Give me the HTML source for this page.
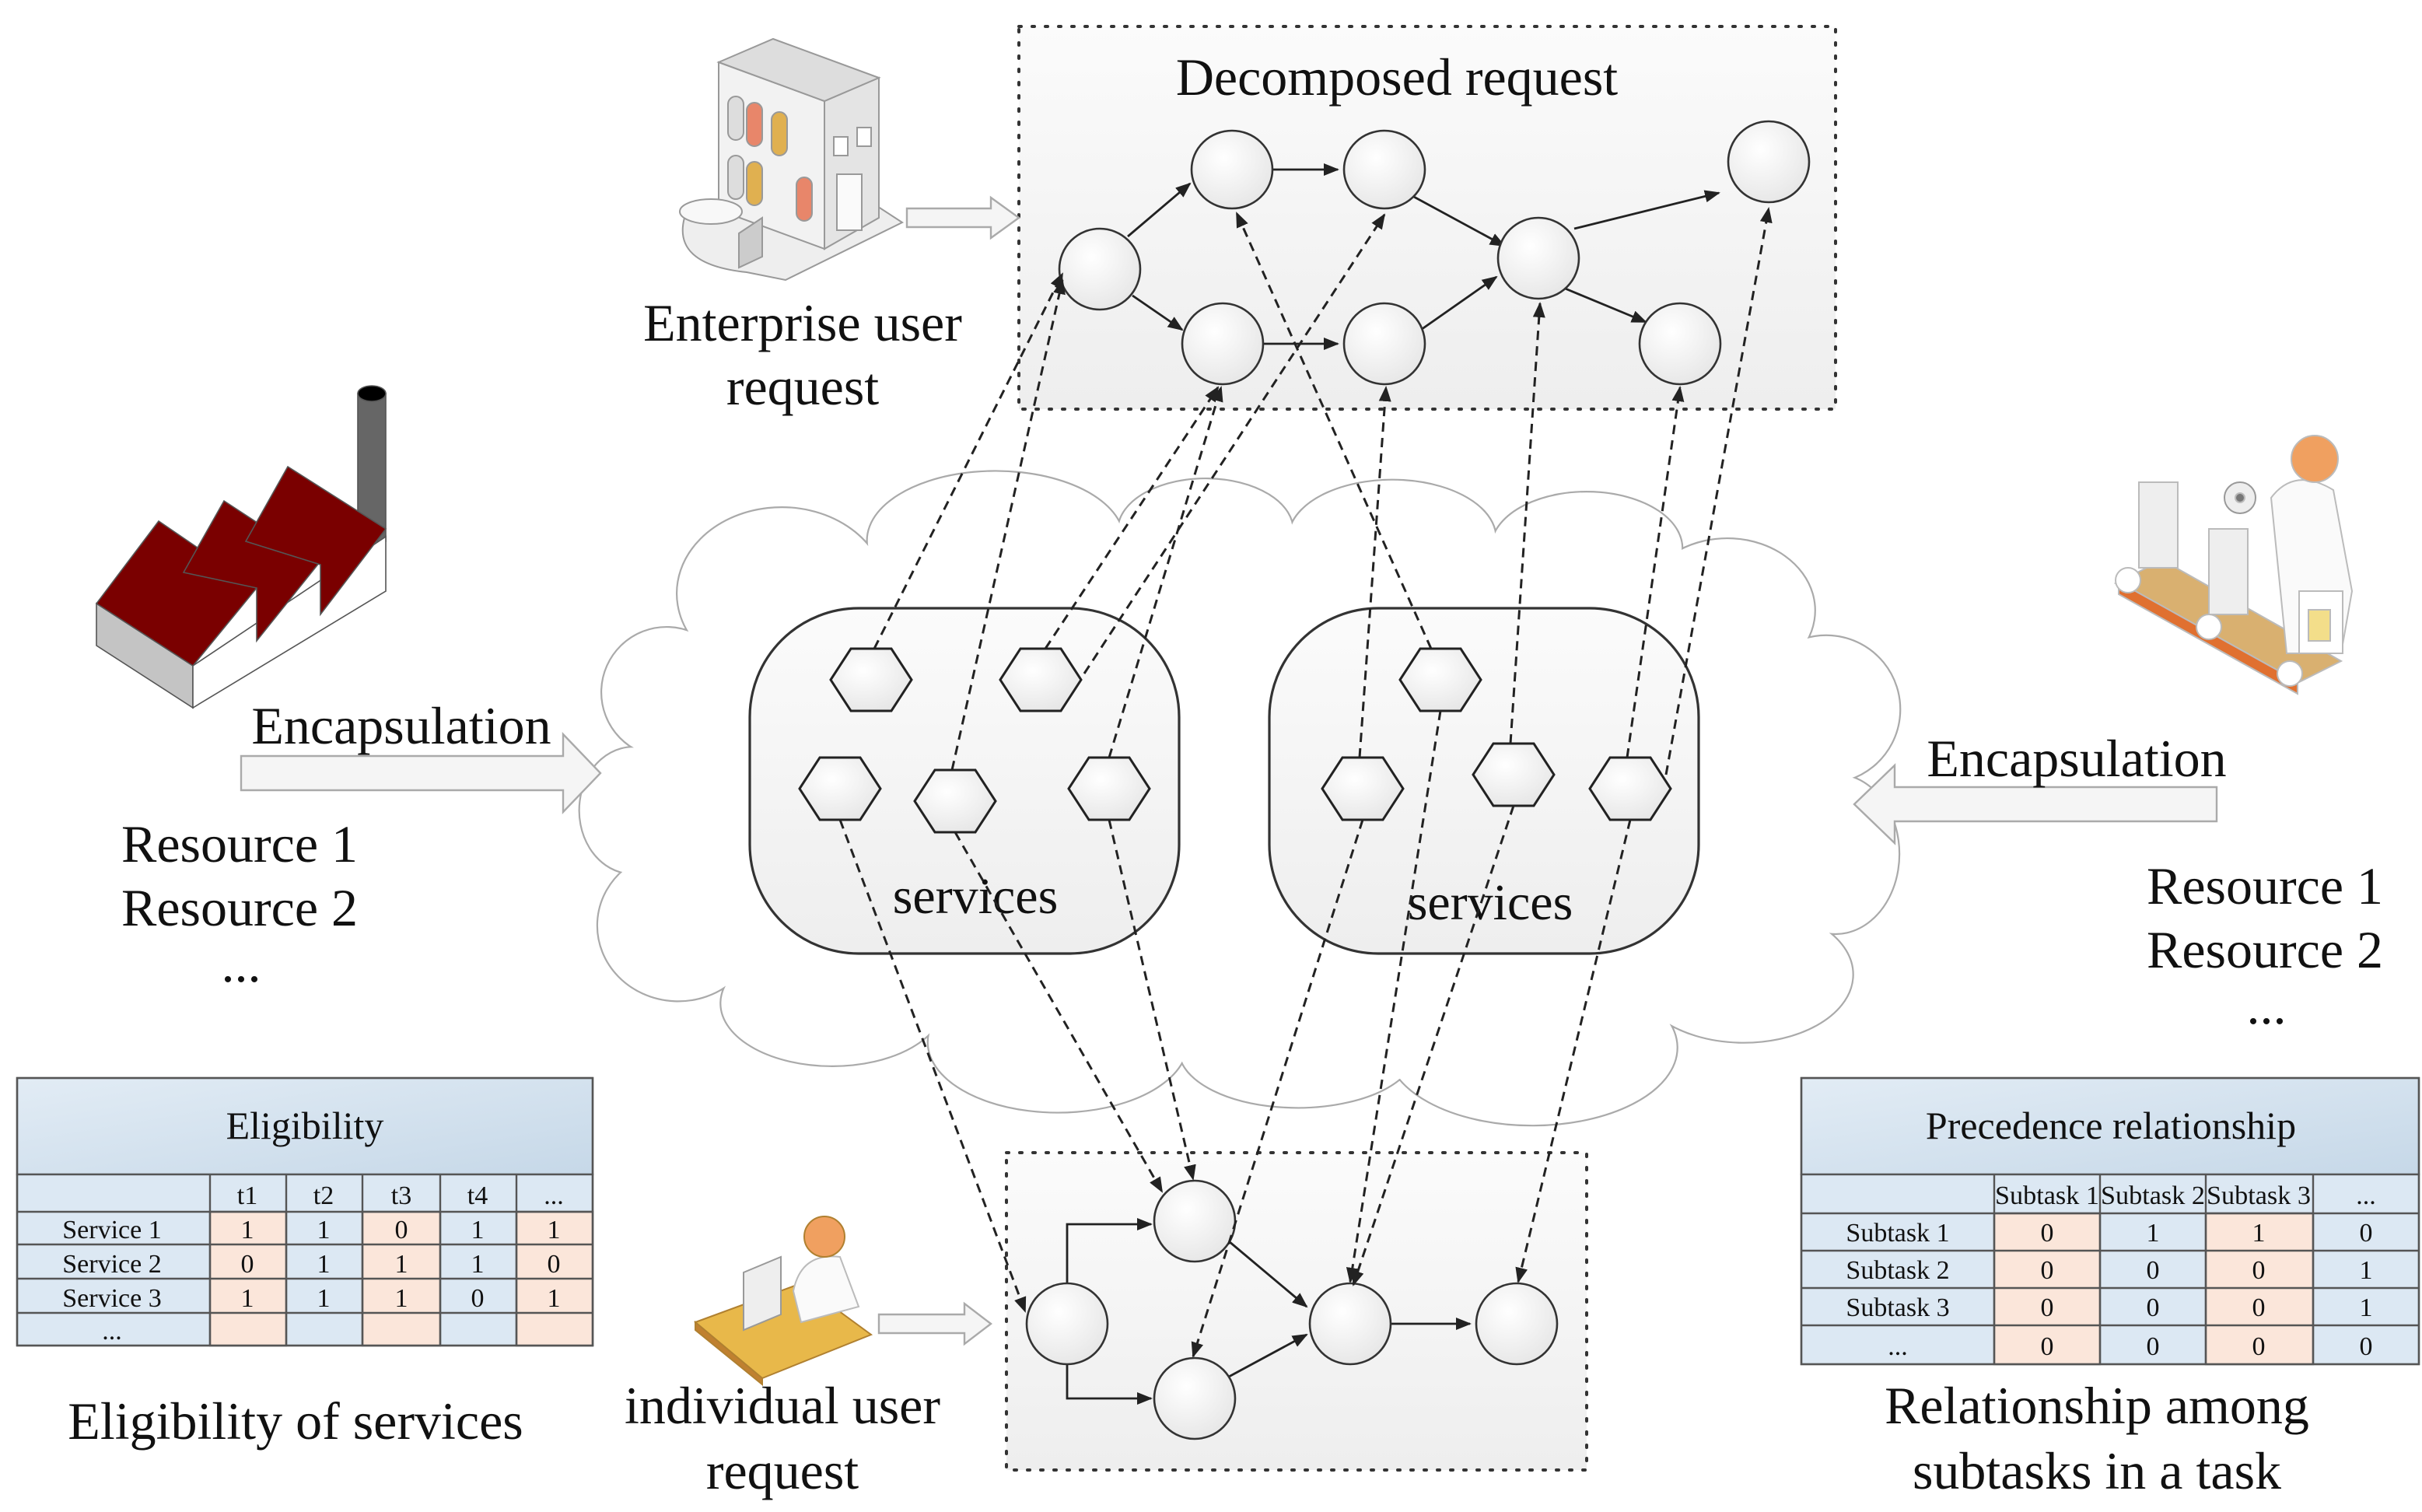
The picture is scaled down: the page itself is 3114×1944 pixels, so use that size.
<!DOCTYPE html>
<html><head><meta charset="utf-8"><style>
html,body{margin:0;padding:0;background:#fff}
svg{display:block}
text{font-family:"Liberation Serif",serif;fill:#111}
</style></head><body>
<svg width="3114" height="1944" viewBox="0 0 1557 972" xmlns="http://www.w3.org/2000/svg">
<defs>
<marker id="ar" markerWidth="10" markerHeight="8" refX="9" refY="4" orient="auto" markerUnits="userSpaceOnUse"><path d="M0,0 L10,4 L0,8 Z" fill="#222"/></marker>
<linearGradient id="hg" x1="0" y1="0" x2="1" y2="1"><stop offset="0" stop-color="#e2ecf5"/><stop offset="1" stop-color="#c6d8e8"/></linearGradient>
<radialGradient id="nd" cx="0.4" cy="0.35" r="0.7"><stop offset="0" stop-color="#fff"/><stop offset="1" stop-color="#e6e6e6"/></radialGradient>
<linearGradient id="bx" x1="0" y1="0" x2="0" y2="1"><stop offset="0" stop-color="#fbfbfb"/><stop offset="1" stop-color="#eeeeee"/></linearGradient>
</defs>

<rect x="655" y="17" width="525" height="246" fill="url(#bx)" stroke="#333" stroke-width="2" stroke-dasharray="1.5,7" stroke-linecap="round"/>
<rect x="647" y="741" width="373" height="204" fill="url(#bx)" stroke="#333" stroke-width="2" stroke-dasharray="1.5,7" stroke-linecap="round"/>

<!-- cloud -->
<g fill="#fff">
<path id="cl" d="M412,482 A38 38 0 0 1 445,408 A55 45 0 0 1 560,355 A75 40 0 0 1 720,340 A55 32 0 0 1 830,342 A65 36 0 0 1 960,350 A55 32 0 0 1 1080,355 A55 45 0 0 1 1160,412 A45 45 0 0 1 1188,500 A38 48 0 0 1 1172,598 A65 40 0 0 1 1070,655 A85 45 0 0 1 900,692 A75 36 0 0 1 760,680 A75 40 0 0 1 600,660 A65 36 0 0 1 470,630 A45 42 0 0 1 402,560 A32 38 0 0 1 412,482 Z" stroke="#aaa" stroke-width="4"/>
<path d="M412,482 A38 38 0 0 1 445,408 A55 45 0 0 1 560,355 A75 40 0 0 1 720,340 A55 32 0 0 1 830,342 A65 36 0 0 1 960,350 A55 32 0 0 1 1080,355 A55 45 0 0 1 1160,412 A45 45 0 0 1 1188,500 A38 48 0 0 1 1172,598 A65 40 0 0 1 1070,655 A85 45 0 0 1 900,692 A75 36 0 0 1 760,680 A75 40 0 0 1 600,660 A65 36 0 0 1 470,630 A45 42 0 0 1 402,560 A32 38 0 0 1 412,482 Z" stroke="#fff" stroke-width="1.8"/>
</g>

<rect x="482" y="391" width="276" height="222" rx="70" fill="url(#bx)" stroke="#333" stroke-width="1.6"/>
<rect x="816" y="391" width="276" height="222" rx="70" fill="url(#bx)" stroke="#333" stroke-width="1.6"/>
<text x="627" y="587" font-size="33" text-anchor="middle">services</text>
<text x="958" y="591" font-size="33" text-anchor="middle">services</text>

<g fill="url(#nd)" stroke="#222" stroke-width="1.5">
<path d="M534,437 l13,-20 h26 l13,20 l-13,20 h-26 Z"/>
<path d="M643,437 l13,-20 h26 l13,20 l-13,20 h-26 Z"/>
<path d="M514,507 l13,-20 h26 l13,20 l-13,20 h-26 Z"/>
<path d="M588,515 l13,-20 h26 l13,20 l-13,20 h-26 Z"/>
<path d="M687,507 l13,-20 h26 l13,20 l-13,20 h-26 Z"/>
<path d="M900,437 l13,-20 h26 l13,20 l-13,20 h-26 Z"/>
<path d="M850,507 l13,-20 h26 l13,20 l-13,20 h-26 Z"/>
<path d="M947,498 l13,-20 h26 l13,20 l-13,20 h-26 Z"/>
<path d="M1022,507 l13,-20 h26 l13,20 l-13,20 h-26 Z"/>
</g>

<g stroke="#222" stroke-width="1.4" fill="none" marker-end="url(#ar)">
<line x1="725" y1="152" x2="765" y2="118"/>
<line x1="815" y1="109" x2="860" y2="109"/>
<line x1="728" y1="190" x2="760" y2="212"/>
<line x1="808" y1="221" x2="860" y2="221"/>
<line x1="908" y1="126" x2="967" y2="158"/>
<line x1="912" y1="213" x2="962" y2="178"/>
<line x1="1012" y1="147" x2="1105" y2="124"/>
<line x1="1005" y1="185" x2="1058" y2="207"/>
</g>
<g fill="url(#nd)" stroke="#333" stroke-width="1.3">
<ellipse cx="707" cy="173" rx="26" ry="26"/>
<ellipse cx="792" cy="109" rx="26" ry="25"/>
<ellipse cx="890" cy="109" rx="26" ry="25"/>
<ellipse cx="786" cy="221" rx="26" ry="26"/>
<ellipse cx="890" cy="221" rx="26" ry="26"/>
<ellipse cx="989" cy="166" rx="26" ry="26"/>
<ellipse cx="1137" cy="104" rx="26" ry="26"/>
<ellipse cx="1080" cy="221" rx="26" ry="26"/>
</g>

<g stroke="#222" stroke-width="1.4" fill="none" marker-end="url(#ar)">
<polyline points="686,826 686,787 740,787"/>
<polyline points="686,876 686,899 740,899"/>
<line x1="790" y1="798" x2="840" y2="840"/>
<line x1="790" y1="885" x2="840" y2="858"/>
<line x1="894" y1="851" x2="945" y2="851"/>
</g>
<g fill="url(#nd)" stroke="#333" stroke-width="1.3">
<ellipse cx="686" cy="851" rx="26" ry="26"/>
<ellipse cx="768" cy="785" rx="26" ry="26"/>
<ellipse cx="768" cy="899" rx="26" ry="26"/>
<ellipse cx="868" cy="851" rx="26" ry="26"/>
<ellipse cx="975" cy="851" rx="26" ry="26"/>
</g>

<g stroke="#222" stroke-width="1.5" fill="none" stroke-dasharray="6,4" marker-end="url(#ar)">
<line x1="562" y1="417" x2="683" y2="176"/>
<line x1="612" y1="495" x2="683" y2="180"/>
<line x1="672" y1="417" x2="783" y2="249"/>
<line x1="697" y1="433" x2="890" y2="138"/>
<line x1="713" y1="487" x2="785" y2="249"/>
<line x1="920" y1="417" x2="795" y2="137"/>
<line x1="874" y1="487" x2="891" y2="249"/>
<line x1="971" y1="478" x2="990" y2="195"/>
<line x1="1046" y1="487" x2="1080" y2="249"/>
<line x1="1071" y1="498" x2="1137" y2="134"/>
<line x1="540" y1="527" x2="659" y2="843"/>
<line x1="614" y1="535" x2="747" y2="766"/>
<line x1="713" y1="527" x2="767" y2="758"/>
<line x1="876" y1="527" x2="767" y2="872"/>
<line x1="926" y1="457" x2="868" y2="824"/>
<line x1="973" y1="518" x2="870" y2="826"/>
<line x1="1048" y1="527" x2="976" y2="824"/>
</g>

<g fill="#f5f5f5" stroke="#aaa" stroke-width="1.2">
<path d="M155,486 H362 V472 L386,497 L362,522 V508 H155 Z"/>
<path d="M1425,506 H1218 V492 L1192,517 L1218,542 V528 H1425 Z"/>
<path d="M583,134 H637 V127 L655,140 L637,153 V146 H583 Z"/>
<path d="M565,845 H620 V838 L637,851 L620,864 V857 H565 Z"/>
</g>

<g font-size="34">
<text x="898" y="61" text-anchor="middle">Decomposed request</text>
<text x="516" y="219" text-anchor="middle">Enterprise user</text>
<text x="516" y="260" text-anchor="middle">request</text>
<text x="258" y="478" text-anchor="middle">Encapsulation</text>
<text x="78" y="554">Resource 1</text>
<text x="78" y="595">Resource 2</text>
<text x="155" y="631" text-anchor="middle">...</text>
<text x="1335" y="499" text-anchor="middle">Encapsulation</text>
<text x="1380" y="581">Resource 1</text>
<text x="1380" y="622">Resource 2</text>
<text x="1457" y="658" text-anchor="middle">...</text>
<text x="190" y="925" text-anchor="middle">Eligibility of services</text>
<text x="503" y="915" text-anchor="middle">individual user</text>
<text x="503" y="957" text-anchor="middle">request</text>
<text x="1348" y="915" text-anchor="middle">Relationship among</text>
<text x="1348" y="957" text-anchor="middle">subtasks in a task</text>
</g>

<!-- Eligibility table -->
<g stroke="#555" stroke-width="1.2">
<rect x="11" y="693" width="370" height="62" fill="url(#hg)"/>
<rect x="11" y="755" width="370" height="110" fill="#dce8f3"/>
<g fill="#fbe6da">
<rect x="135" y="779" width="49" height="86"/><rect x="233" y="779" width="50" height="86"/><rect x="332" y="779" width="49" height="86"/>
</g>
<g fill="none">
<line x1="11" y1="779" x2="381" y2="779"/><line x1="11" y1="800" x2="381" y2="800"/><line x1="11" y1="822" x2="381" y2="822"/><line x1="11" y1="844" x2="381" y2="844"/>
<line x1="135" y1="755" x2="135" y2="865"/><line x1="184" y1="755" x2="184" y2="865"/><line x1="233" y1="755" x2="233" y2="865"/><line x1="283" y1="755" x2="283" y2="865"/><line x1="332" y1="755" x2="332" y2="865"/>
<rect x="11" y="693" width="370" height="172"/>
</g>
</g>
<g font-size="17" text-anchor="middle">
<text x="196" y="732" font-size="25">Eligibility</text>
<text x="159" y="774">t1</text><text x="208" y="774">t2</text><text x="258" y="774">t3</text><text x="307" y="774">t4</text><text x="356" y="774">...</text>
<text x="72" y="796">Service 1</text><text x="159" y="796">1</text><text x="208" y="796">1</text><text x="258" y="796">0</text><text x="307" y="796">1</text><text x="356" y="796">1</text>
<text x="72" y="818">Service 2</text><text x="159" y="818">0</text><text x="208" y="818">1</text><text x="258" y="818">1</text><text x="307" y="818">1</text><text x="356" y="818">0</text>
<text x="72" y="840">Service 3</text><text x="159" y="840">1</text><text x="208" y="840">1</text><text x="258" y="840">1</text><text x="307" y="840">0</text><text x="356" y="840">1</text>
<text x="72" y="861">...</text>
</g>

<!-- Precedence table -->
<g stroke="#555" stroke-width="1.2">
<rect x="1158" y="693" width="397" height="62" fill="url(#hg)"/>
<rect x="1158" y="755" width="397" height="122" fill="#dce8f3"/>
<g fill="#fbe6da">
<rect x="1282" y="780" width="68" height="97"/><rect x="1418" y="780" width="69" height="97"/>
</g>
<g fill="none">
<line x1="1158" y1="780" x2="1555" y2="780"/><line x1="1158" y1="804" x2="1555" y2="804"/><line x1="1158" y1="828" x2="1555" y2="828"/><line x1="1158" y1="852" x2="1555" y2="852"/>
<line x1="1282" y1="755" x2="1282" y2="877"/><line x1="1350" y1="755" x2="1350" y2="877"/><line x1="1418" y1="755" x2="1418" y2="877"/><line x1="1487" y1="755" x2="1487" y2="877"/>
<rect x="1158" y="693" width="397" height="184"/>
</g>
</g>
<g font-size="17" text-anchor="middle">
<text x="1357" y="732" font-size="25">Precedence relationship</text>
<text x="1316" y="774" textLength="67" lengthAdjust="spacingAndGlyphs">Subtask 1</text><text x="1384" y="774" textLength="67" lengthAdjust="spacingAndGlyphs">Subtask 2</text><text x="1452" y="774" textLength="67" lengthAdjust="spacingAndGlyphs">Subtask 3</text><text x="1521" y="774">...</text>
<text x="1220" y="798">Subtask 1</text><text x="1316" y="798">0</text><text x="1384" y="798">1</text><text x="1452" y="798">1</text><text x="1521" y="798">0</text>
<text x="1220" y="822">Subtask 2</text><text x="1316" y="822">0</text><text x="1384" y="822">0</text><text x="1452" y="822">0</text><text x="1521" y="822">1</text>
<text x="1220" y="846">Subtask 3</text><text x="1316" y="846">0</text><text x="1384" y="846">0</text><text x="1452" y="846">0</text><text x="1521" y="846">1</text>
<text x="1220" y="871">...</text><text x="1316" y="871">0</text><text x="1384" y="871">0</text><text x="1452" y="871">0</text><text x="1521" y="871">0</text>
</g>

<!-- factory -->
<g stroke="#555" stroke-width="0.8">
<rect x="230" y="253" width="18" height="95" fill="#666"/>
<ellipse cx="239" cy="253" rx="9" ry="5" fill="#000"/>
<polygon points="62,388 124,428 124,455 62,415" fill="#c4c4c4"/>
<polygon points="124,428 248,345 248,380 124,455" fill="#fff"/>
<polygon points="62,388 102,335 165,378 124,428" fill="#7a0000"/>
<polygon points="118,368 144,322 205,362 165,412 165,378" fill="#7a0000"/>
<polygon points="158,348 185,300 248,340 206,395 206,363" fill="#7a0000"/>
</g>

<!-- enterprise building -->
<g stroke="#999" stroke-width="1">
<path d="M440,140 Q432,170 480,175 L505,180 L580,143 L560,130 Z" fill="#eee"/>
<polygon points="462,40 530,65 530,160 462,135" fill="#f2f2f2"/>
<polygon points="530,65 565,50 565,140 530,160" fill="#e4e4e4"/>
<polygon points="462,40 497,25 565,50 530,65" fill="#ddd"/>
<rect x="468" y="62" width="10" height="28" rx="5" fill="#ddd"/>
<rect x="480" y="66" width="10" height="28" rx="5" fill="#e8866a"/>
<rect x="496" y="72" width="10" height="28" rx="5" fill="#e0b050"/>
<rect x="468" y="100" width="10" height="28" rx="5" fill="#ddd"/>
<rect x="480" y="104" width="10" height="28" rx="5" fill="#e0b050"/>
<rect x="512" y="114" width="10" height="28" rx="5" fill="#e8866a"/>
<rect x="536" y="88" width="9" height="12" fill="#fff"/><rect x="551" y="82" width="9" height="12" fill="#fff"/>
<rect x="538" y="112" width="16" height="36" fill="#fafafa"/>
<ellipse cx="457" cy="136" rx="20" ry="8" fill="#f8f8f8"/>
<polygon points="475,150 490,140 490,165 475,172" fill="#ccc"/>
</g>

<!-- worker on conveyor -->
<g stroke="#bbb" stroke-width="1">
<polygon points="1360,375 1475,440 1505,425 1390,360" fill="#d9b070"/>
<polygon points="1362,382 1477,446 1477,438 1362,374" fill="#e07030"/>
<circle cx="1368" cy="373" r="8" fill="#fff"/><circle cx="1420" cy="403" r="8" fill="#fff"/><circle cx="1472" cy="433" r="8" fill="#fff"/>
<rect x="1375" y="310" width="25" height="55" fill="#eee"/>
<rect x="1420" y="340" width="25" height="55" fill="#eee"/>
<path d="M1460,320 Q1475,300 1500,315 L1512,380 L1505,420 L1470,420 Z" fill="#fafafa"/>
<circle cx="1488" cy="295" r="15" fill="#f0a060"/>
<circle cx="1440" cy="320" r="10" fill="#eee" stroke="#999"/>
<circle cx="1440" cy="320" r="3" fill="#777"/>
<rect x="1478" y="380" width="28" height="40" fill="#fff"/><rect x="1484" y="392" width="14" height="20" fill="#f3de8a"/>
</g>

<!-- individual user -->
<g stroke="#b08030" stroke-width="1">
<polygon points="447,850 515,825 560,858 490,886" fill="#e8b84a"/>
<polygon points="447,850 490,886 490,890 447,855" fill="#c08030"/>
<polygon points="478,818 502,808 502,845 478,855" fill="#eee" stroke="#999"/>
<path d="M510,830 Q515,805 540,808 L552,840 L515,850 Z" fill="#fafafa" stroke="#bbb"/>
<circle cx="530" cy="795" r="13" fill="#f0a060"/>
</g>
</svg>
</body></html>
